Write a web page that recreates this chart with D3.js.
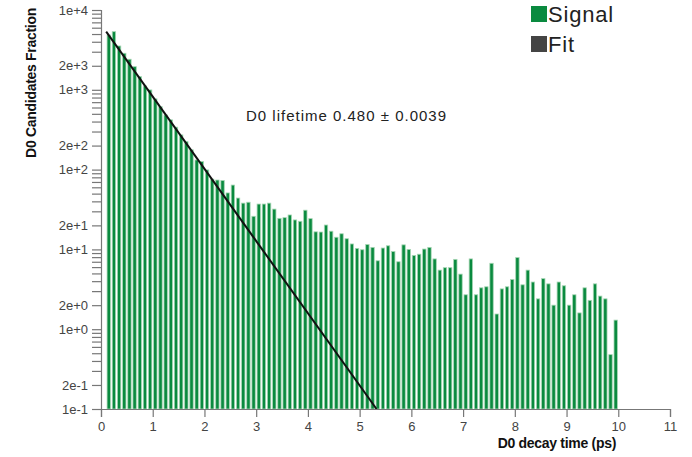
<!DOCTYPE html>
<html>
<head>
<meta charset="utf-8">
<script src="https://cdn.jsdelivr.net/npm/d3@7"></script>
<style>
  body { margin: 0; background: #ffffff; }
  svg { display: block; }
</style>
</head>
<body>
<svg id="chart" width="692" height="457"></svg>
<script>
// D0 candidates per decay-time bin (bins of 0.1 ps starting at 0.1 ps)
const signalCounts = [
  4860, 5350, 3540, 2870, 2415, 1950, 1462, 1118, 996, 769,
  615, 484, 420, 340, 272, 224, 177, 132, 126, 99,
  76, 74, 73, 51, 64, 44, 38, 39, 26, 37,
  37, 38, 32, 24.5, 25, 27, 23.4, 22.5, 31, 24.3,
  16.6, 16.5, 20.2, 16.9, 14.2, 15.7, 13.6, 11.7, 10.3, 9.9,
  11.5, 10.6, 7.2, 10.4, 11.1, 9.4, 7.0, 11.4, 10.0, 8.4,
  8.7, 10.1, 10.6, 7.6, 5.5, 5.9, 5.9, 7.5, 4.9, 2.7,
  7.6, 2.7, 3.3, 3.4, 6.7, 1.55, 3.2, 3.4, 4.2, 7.9,
  3.6, 5.5, 3.9, 2.4, 4.3, 3.7, 2.0, 3.9, 3.5, 2.0,
  2.7, 1.6, 3.3, 2.3, 3.7, 2.6, 2.4, 0.48, 1.3
];
const firstBinStart = 0.1;
const binWidth = 0.1;

// Axis settings
const xDomain = [0, 11];
const xTickValues = [0, 1, 2, 3, 4, 5, 6, 7, 8, 9, 10, 11];
const yDomain = [0.1, 10000];
const yLabelMantissas = [1, 2];

// Exponential fit: N(t) = A * exp(-t / tau)
const fitLifetime = 0.480;
const fitLifetimeError = 0.0039;
const fitAmplitude = 6600;
const fitStartTime = 0.1;

// Legend
const legendLabels = ["Signal", "Fit"];
const legendColors = ["#0a8a3f", "#444444"];

const xTitle = "D0 decay time (ps)";
const yTitle = "D0 Candidates Fraction";

const svg = d3.select("#chart");
const plot = { left: 101, right: 670, top: 10, bottom: 409 };

const x = d3.scaleLinear().domain(xDomain).range([plot.left, plot.right]);
const y = d3.scaleLog().domain(yDomain).range([plot.bottom, plot.top]);

const font = "'Liberation Sans', Arial, Helvetica, sans-serif";

// Bars
const bins = signalCounts.map((v, i) => ({ t0: firstBinStart + i * binWidth, value: v }));
svg.append("g")
  .selectAll("rect")
  .data(bins)
  .join("rect")
  .attr("x", d => x(d.t0) + 0.9)
  .attr("width", d => x(d.t0 + binWidth) - x(d.t0) - 1.8)
  .attr("y", d => y(d.value))
  .attr("height", d => y(yDomain[0]) - y(d.value))
  .attr("fill", legendColors[0])
  .attr("stroke", "#a6d6b4")
  .attr("stroke-width", 0.8);

// Fit line, drawn until it reaches the bottom of the axis
const fitModel = t => fitAmplitude * Math.exp(-t / fitLifetime);
const fitEndTime = fitLifetime * Math.log(fitAmplitude / yDomain[0]);
const fitPoints = [fitStartTime, fitEndTime].map(t => [t, fitModel(t)]);
svg.append("path")
  .datum(fitPoints)
  .attr("fill", "none")
  .attr("stroke", "#111111")
  .attr("stroke-width", 2)
  .attr("d", d3.line().x(d => x(d[0])).y(d => y(d[1])));

// Axes
const mantissa = d => Math.round(d / Math.pow(10, Math.floor(Math.log10(d) + 1e-9)));
const yAxis = d3.axisLeft(y)
  .tickSize(9)
  .tickPadding(4)
  .tickFormat(d => yLabelMantissas.includes(mantissa(d)) ? d3.format(".0e")(d) : "");
const xAxis = d3.axisBottom(x)
  .tickValues(xTickValues)
  .tickSize(8)
  .tickPadding(5)
  .tickFormat(d3.format("d"));

function styleAxis(g) {
  g.select(".domain").attr("stroke", "#777777").attr("stroke-width", 1.2);
  g.selectAll(".tick line").attr("stroke", "#777777").attr("stroke-width", 1.2);
  g.selectAll(".tick text")
    .attr("fill", "#444444")
    .style("font-family", font)
    .style("font-size", "13px");
}

svg.append("g")
  .attr("transform", `translate(${plot.left},0)`)
  .call(yAxis)
  .call(styleAxis);

svg.append("g")
  .attr("transform", `translate(0,${plot.bottom})`)
  .call(xAxis)
  .call(styleAxis);

// Axis titles
svg.append("text")
  .attr("transform", "translate(36,83) rotate(-90)")
  .attr("text-anchor", "middle")
  .style("font-family", font)
  .style("font-weight", "bold")
  .style("font-size", "14px")
  .style("letter-spacing", "-0.3px")
  .attr("fill", "#111111")
  .text(yTitle);

svg.append("text")
  .attr("x", 616)
  .attr("y", 448)
  .attr("text-anchor", "end")
  .style("font-family", font)
  .style("font-weight", "bold")
  .style("font-size", "14px")
  .style("letter-spacing", "-0.3px")
  .attr("fill", "#111111")
  .text(xTitle);

// Lifetime annotation
svg.append("text")
  .attr("x", 246)
  .attr("y", 121)
  .style("font-family", font)
  .style("font-size", "15px")
  .style("letter-spacing", "1px")
  .attr("fill", "#222222")
  .text(`D0 lifetime ${fitLifetime.toFixed(3)} \u00b1 ${fitLifetimeError.toFixed(4)}`);

// Legend
const legend = svg.append("g").attr("transform", "translate(531,6)");
legendLabels.forEach((label, i) => {
  const row = legend.append("g").attr("transform", `translate(0,${i * 30})`);
  row.append("rect")
    .attr("width", 16)
    .attr("height", 16)
    .attr("fill", legendColors[i]);
  row.append("text")
    .attr("x", 17)
    .attr("y", 16)
    .style("font-family", font)
    .style("font-size", "22px")
    .style("letter-spacing", "0.8px")
    .attr("fill", "#222222")
    .text(label);
});
</script>
</body>
</html>
